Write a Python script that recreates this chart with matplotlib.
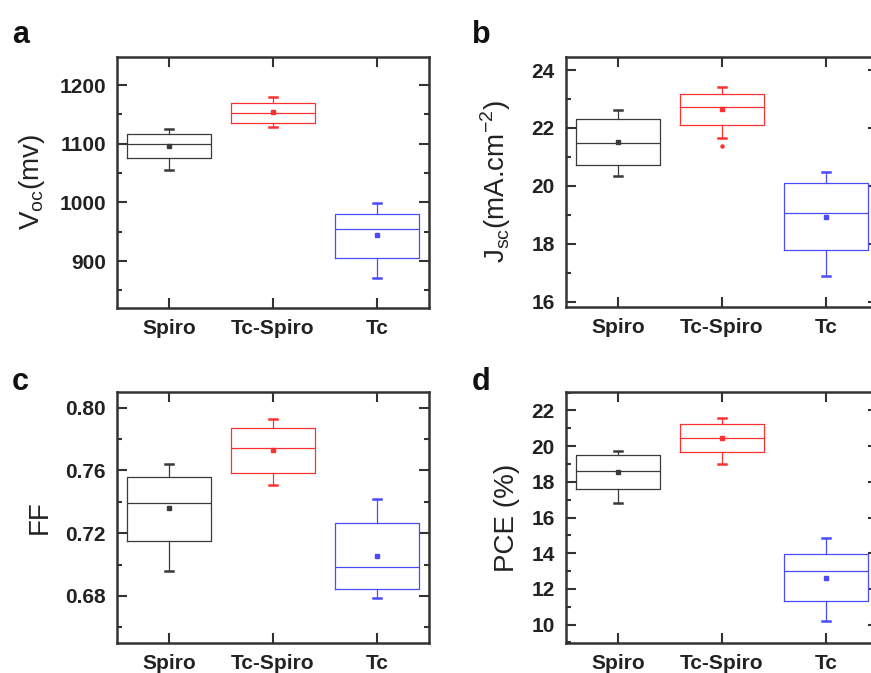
import matplotlib
matplotlib.use("Agg")
import matplotlib.pyplot as plt
from matplotlib.ticker import MultipleLocator

plt.rcParams['font.family'] = ['Liberation Sans', 'DejaVu Sans']
plt.rcParams['mathtext.fontset'] = 'custom'
plt.rcParams['mathtext.rm'] = 'Liberation Sans'

groups = ["Spiro", "Tc-Spiro", "Tc"]
colors = ["#3a3a3a", "#ff3030", "#4a4aff"]

# Voc (mV)
voc_q1 = [1076, 1135, 905]
voc_med = [1100, 1152, 954]
voc_q3 = [1116, 1169, 981]
voc_lo = [1056, 1129, 871]
voc_hi = [1126, 1179, 999]
voc_mean = [1097, 1155, 944]

# Jsc (mA cm^-2)
jsc_q1 = [20.72, 22.10, 17.78]
jsc_med = [21.49, 22.71, 19.05]
jsc_q3 = [22.31, 23.19, 20.09]
jsc_lo = [20.34, 21.64, 16.88]
jsc_hi = [22.62, 23.40, 20.49]
jsc_mean = [21.50, 22.66, 18.91]
jsc_out = [[], [21.39], []]

# FF
ff_q1 = [0.7153, 0.7586, 0.6845]
ff_med = [0.7395, 0.7745, 0.6983]
ff_q3 = [0.7560, 0.7868, 0.7268]
ff_lo = [0.6960, 0.7507, 0.6790]
ff_hi = [0.7639, 0.7930, 0.7418]
ff_mean = [0.7359, 0.7730, 0.7055]

# PCE (%)
pce_q1 = [17.62, 19.65, 11.35]
pce_med = [18.62, 20.43, 13.03]
pce_q3 = [19.48, 21.22, 13.96]
pce_lo = [16.81, 18.98, 10.23]
pce_hi = [19.72, 21.57, 14.87]
pce_mean = [18.53, 20.43, 12.62]

W, H = 871, 673
fig = plt.figure(figsize=(W / 100, H / 100), dpi=100)


def px_axes(left, top, width, height):
    return fig.add_axes([left / W, 1 - (top + height) / H, width / W, height / H])


def panel(ax, q1, med, q3, lo, hi, mean, ylim, major, minor, ylabel, outliers=None):
    for i, c in enumerate(colors):
        st = dict(med=med[i], q1=q1[i], q3=q3[i], whislo=lo[i], whishi=hi[i],
                  mean=mean[i], fliers=(outliers[i] if outliers else []), label=groups[i])
        ax.bxp([st], positions=[i + 1], widths=0.8, showmeans=True,
               showcaps=True, capwidths=0.08,
               boxprops=dict(color=c, linewidth=0.9),
               medianprops=dict(color=c, linewidth=0.9),
               whiskerprops=dict(color=c, linewidth=0.9),
               capprops=dict(color=c, linewidth=1.8),
               meanprops=dict(marker='s', markersize=2.6, markerfacecolor=c,
                              markeredgecolor=c),
               flierprops=dict(marker='o', markersize=2.2, markerfacecolor=c,
                               markeredgecolor=c))
    ax.set_xlim(0.5, 3.5)
    ax.set_ylim(*ylim)
    ax.set_xticks([1, 2, 3])
    ax.set_xticklabels(groups, fontsize=15, fontweight='bold')
    ax.yaxis.set_major_locator(MultipleLocator(major))
    ax.yaxis.set_minor_locator(MultipleLocator(minor))
    ax.tick_params(axis='both', which='major', direction='in', length=7, width=1.5,
                   top=True, right=True, colors='#333333', labelcolor='#222222')
    ax.tick_params(axis='x', which='major', pad=8)
    ax.tick_params(axis='y', which='major', labelsize=15, pad=8)
    ax.tick_params(axis='y', which='minor', direction='in', length=3.5, width=1.5,
                   right=True, colors='#333333')
    ax.tick_params(axis='x', which='minor', bottom=False, top=False)
    for lab in ax.get_yticklabels():
        lab.set_fontweight('bold')
    for s in ax.spines.values():
        s.set_linewidth(1.8)
        s.set_color('#333333')
    ax.set_ylabel(ylabel, fontsize=20, color='#222222')


ax_a = px_axes(117, 57, 312, 251)
panel(ax_a, voc_q1, voc_med, voc_q3, voc_lo, voc_hi, voc_mean,
      (820, 1248), 100, 50, r'V$_{\mathregular{oc}}$(mv)')
ax_a.yaxis.set_label_coords(-0.224, 0.5)

ax_b = px_axes(566, 57, 312, 250)
panel(ax_b, jsc_q1, jsc_med, jsc_q3, jsc_lo, jsc_hi, jsc_mean,
      (15.82, 24.45), 2, 1, r'J$_{\mathregular{sc}}$(mA.cm$^{\mathregular{-2}}$)',
      outliers=jsc_out)
ax_b.yaxis.set_label_coords(-0.17, 0.5)

ax_c = px_axes(117, 392, 312, 251)
panel(ax_c, ff_q1, ff_med, ff_q3, ff_lo, ff_hi, ff_mean,
      (0.65, 0.81), 0.04, 0.02, 'FF')
ax_c.yaxis.set_label_coords(-0.205, 0.5)

ax_d = px_axes(566, 392, 312, 251)
panel(ax_d, pce_q1, pce_med, pce_q3, pce_lo, pce_hi, pce_mean,
      (8.97, 23.03), 2, 1, 'PCE (%)')
ax_d.yaxis.set_label_coords(-0.147, 0.5)

for lab, x, y in [("a", 12, 43), ("b", 472, 43), ("c", 12, 390), ("d", 472, 390)]:
    fig.text(x / W, 1 - y / H, lab, fontsize=22, fontweight='bold',
             ha='left', va='baseline', color='#111111')

fig.savefig("out.png", dpi=100)
